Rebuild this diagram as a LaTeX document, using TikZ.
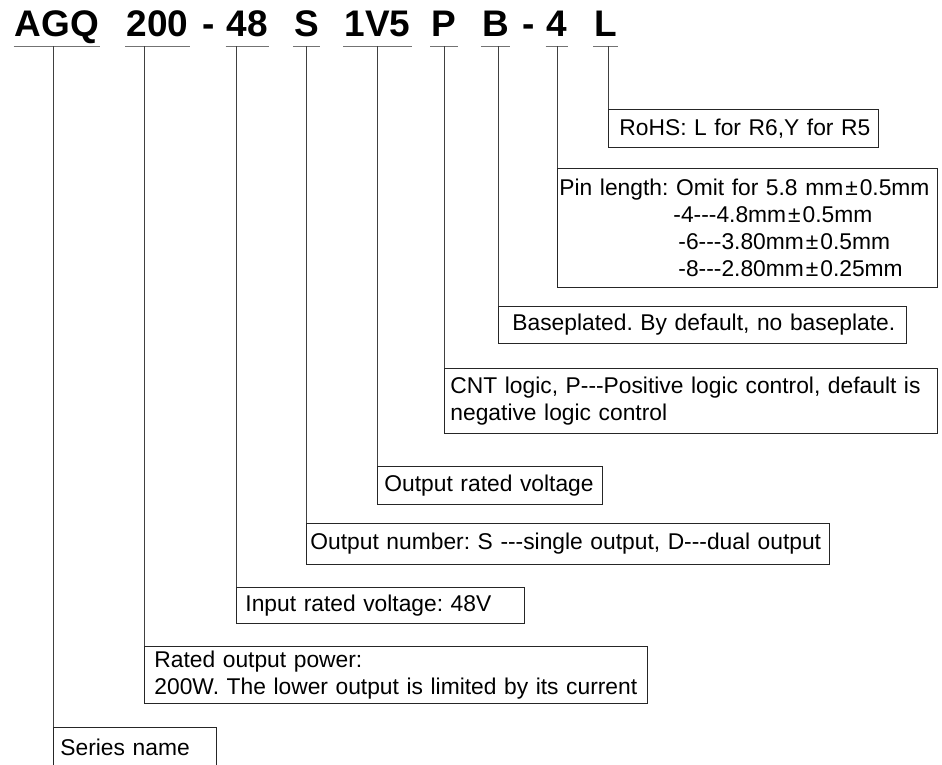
\documentclass[tikz,border=0pt]{standalone}
\usepackage{fontspec}
\setmainfont{Liberation Sans}[Ligatures=TeXOff]
\usepackage{tikz}
\usetikzlibrary{positioning}
\newcommand{\pmsign}{\hspace{2pt}±\hspace{2pt}}
\tikzset{
x=1pt, y=-1pt, % one unit is one pixel, y runs downwards
code/.style={font=\fontsize{37}{40}\selectfont\bfseries, inner sep=0pt, anchor=base}, % letters of the part number
uline/.style={draw=black!55, line width=0.9pt}, % line under each field
lead/.style={draw=black!75, line width=0.9pt}, % line from a field down to its box
desc/.style={draw=black!85, line width=0.9pt, anchor=north west, align=left, inner ysep=0pt,
  font=\fontsize{22.8}{26.8}\selectfont,
  execute at begin node={\frenchspacing\hyphenpenalty=10000\exhyphenpenalty=10000}}, % the boxes
}

\begin{document}
\begin{tikzpicture}
\useasboundingbox (0,0) rectangle (942,764);

% part number
\node[code] (agq) at (57,36) {AGQ};
\node[code] (pw) at (157.5,36) {200};
\node[code] (dsha) at (208.5,36) {-};
\node[code] (vin) at (247.5,36) {48};
\node[code] (num) at (306.5,36) {S};
\node[code] (vout) at (377.5,36) {1V5};
\node[code] (cnt) at (444,36) {P};
\node[code] (bp) at (495.5,36) {B};
\node[code] (dshb) at (528.5,36) {-};
\node[code] (pin) at (557,36) {4};
\node[code] (rohs) at (605.5,36) {L};

% boxes
\node[desc, text width=248pt, inner xsep=11pt, minimum height=38pt] (rohsbox) at (608,109) {\mbox{RoHS: L for R6,Y for R5}};
\node[desc, text width=376pt, inner xsep=2pt, minimum height=119pt] (pinbox) at (557,168)
  {\mbox{Pin length: Omit for 5.8 mm\pmsign0.5mm}\\
   \hspace*{114pt}-4---4.8mm\pmsign0.5mm\\
   \hspace*{119pt}-6---3.80mm\pmsign0.5mm\\
   \hspace*{119pt}-8---2.80mm\pmsign0.25mm};
\node[desc, text width=380pt, inner xsep=14pt, minimum height=37pt] (bpbox) at (498,306) {\mbox{Baseplated. By default, no baseplate.}};
\node[desc, text width=481pt, inner xsep=6pt, minimum height=65pt] (cntbox) at (444,368)
  {\mbox{CNT logic, P---Positive logic control, default is}\\ negative logic control};
\node[desc, text width=211pt, inner xsep=7pt, minimum height=38pt] (voutbox) at (377,466) {\mbox{Output rated voltage}};
\node[desc, text width=515pt, inner xsep=4pt, minimum height=41pt] (numbox) at (306,523) {\mbox{Output number: S ---single output, D---dual output}};
\node[desc, text width=270pt, inner xsep=9pt, minimum height=36pt] (vinbox) at (236,587) {\mbox{Input rated voltage: 48V}};
\node[desc, text width=483pt, inner xsep=10pt, minimum height=57pt] (pwbox) at (144,646)
  {Rated output power:\\ \mbox{200W. The lower output is limited by its current}};
\node[desc, text width=149pt, inner xsep=7pt, minimum height=40pt] (agqbox) at (53,727) {Series name};

% underlines and leaders
\foreach \t in {agq,pw,vin,num,vout,cnt,bp,pin,rohs}{
  \coordinate (\t-u) at ([yshift=-10pt]\t.base);
  \draw[uline] ([xshift=-1pt]\t.base west |- \t-u) -- ([xshift=1pt]\t.base east |- \t-u);
  \draw[lead] (\t box.north west) -- (\t box.north west |- \t-u);
}
\end{tikzpicture}
\end{document}
